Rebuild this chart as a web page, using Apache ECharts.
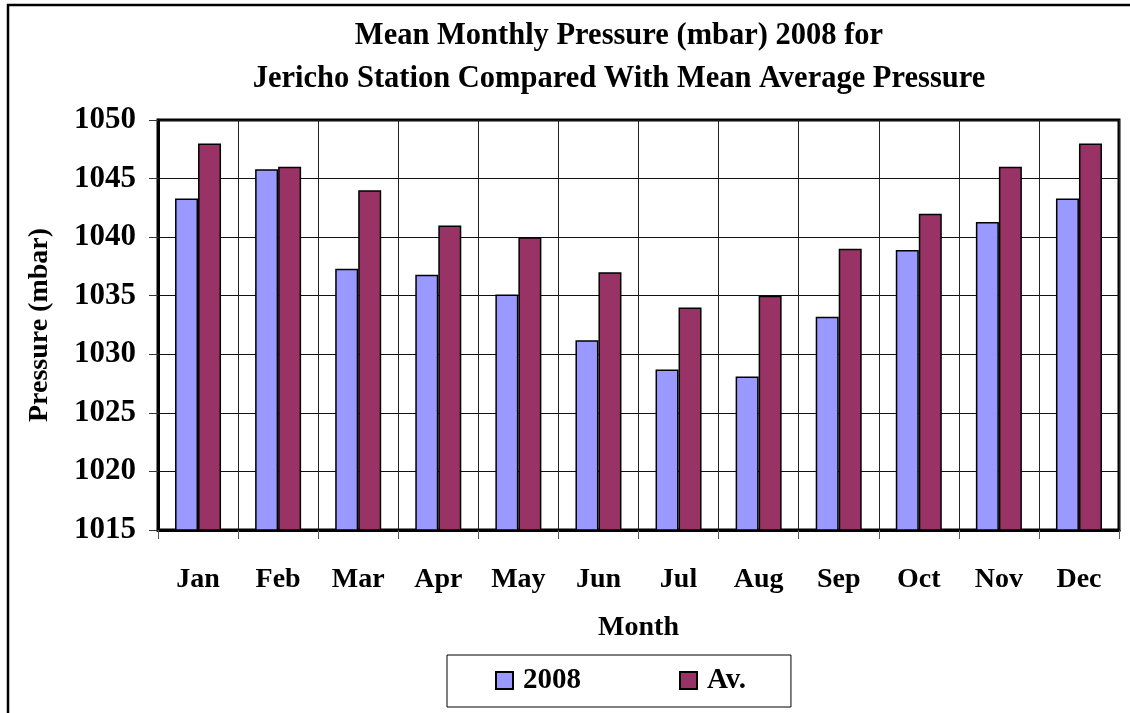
<!DOCTYPE html>
<html>
<head>
<meta charset="utf-8">
<script src="https://cdn.jsdelivr.net/npm/echarts@6/dist/echarts.min.js"></script>
<style>
  html, body { margin: 0; padding: 0; background: #fff; }
  #container { width: 1130px; height: 713px; }
</style>
</head>
<body>
<div id="container"></div>
<script>
var months = ['Jan', 'Feb', 'Mar', 'Apr', 'May', 'Jun', 'Jul', 'Aug', 'Sep', 'Oct', 'Nov', 'Dec'];
var pressure2008 = [1043.3, 1045.8, 1037.3, 1036.8, 1035.1, 1031.2, 1028.7, 1028.1, 1033.2, 1038.9, 1041.3, 1043.3];
var pressureAv = [1048, 1046, 1044, 1041, 1040, 1037, 1034, 1035, 1039, 1042, 1046, 1048];
var seriesNames = ['2008', 'Av.'];

var serif = "'Liberation Serif', 'Times New Roman', serif";

var myChart = echarts.init(document.getElementById('container'));
var option = {
  animation: false,
  backgroundColor: '#fff',
  title: {
    text: 'Mean Monthly Pressure (mbar) 2008 for\nJericho Station Compared With Mean Average Pressure',
    left: 614,
    top: 10,
    textAlign: 'center',
    textStyle: {
      fontFamily: serif,
      fontSize: 30.5,
      fontWeight: 'bold',
      color: '#000',
      lineHeight: 43
    }
  },
  graphic: [{
    type: 'rect',
    shape: { x: 8, y: 5, width: 1140, height: 730 },
    style: { fill: 'none', stroke: '#000', lineWidth: 2.5 },
    silent: true
  }],
  legend: {
    data: seriesNames,
    left: 447,
    top: 655,
    padding: [11, 45, 12, 48],
    itemGap: 98,
    itemWidth: 17,
    itemHeight: 17,
    icon: 'rect',
    borderColor: '#000',
    borderWidth: 1,
    textStyle: {
      fontFamily: serif,
      fontSize: 29,
      fontWeight: 'bold',
      color: '#000',
      padding: [0, 0, 0, 5]
    }
  },
  grid: {
    left: 158,
    right: 11,
    top: 120,
    bottom: 183,
    show: true,
    borderColor: '#000',
    borderWidth: 3
  },
  xAxis: {
    type: 'category',
    data: months,
    name: 'Month',
    nameLocation: 'middle',
    nameGap: 84,
    nameTextStyle: {
      fontFamily: serif,
      fontSize: 28,
      fontWeight: 'bold',
      color: '#000'
    },
    axisLine: { lineStyle: { color: '#000', width: 3 } },
    axisTick: { show: true, length: 9, lineStyle: { color: '#555', width: 1 } },
    splitLine: { show: true, lineStyle: { color: '#222', width: 1 } },
    axisLabel: {
      margin: 36,
      fontFamily: serif,
      fontSize: 28,
      fontWeight: 'bold',
      color: '#000'
    }
  },
  yAxis: {
    type: 'value',
    min: 1015,
    max: 1050,
    interval: 5,
    name: 'Pressure (mbar)',
    nameLocation: 'middle',
    nameRotate: 90,
    nameGap: 104,
    nameTextStyle: {
      fontFamily: serif,
      fontSize: 28,
      fontWeight: 'bold',
      color: '#000'
    },
    axisLine: { show: true, lineStyle: { color: '#000', width: 3 } },
    axisTick: { show: true, length: 9, lineStyle: { color: '#333', width: 1 } },
    splitLine: { show: true, lineStyle: { color: '#111', width: 1 } },
    axisLabel: {
      margin: 22,
      fontFamily: serif,
      fontSize: 31,
      fontWeight: 'bold',
      color: '#000',
      formatter: function (v) { return String(v); }
    }
  },
  series: [{
    name: seriesNames[0],
    type: 'bar',
    data: pressure2008,
    barWidth: 23,
    barGap: '0%',
    itemStyle: { color: '#9999FF', borderColor: '#000', borderWidth: 1.5 }
  }, {
    name: seriesNames[1],
    type: 'bar',
    data: pressureAv,
    barWidth: 23,
    barGap: '0%',
    itemStyle: { color: '#993366', borderColor: '#000', borderWidth: 1.5 }
  }]
};
myChart.setOption(option);
</script>
</body>
</html>
